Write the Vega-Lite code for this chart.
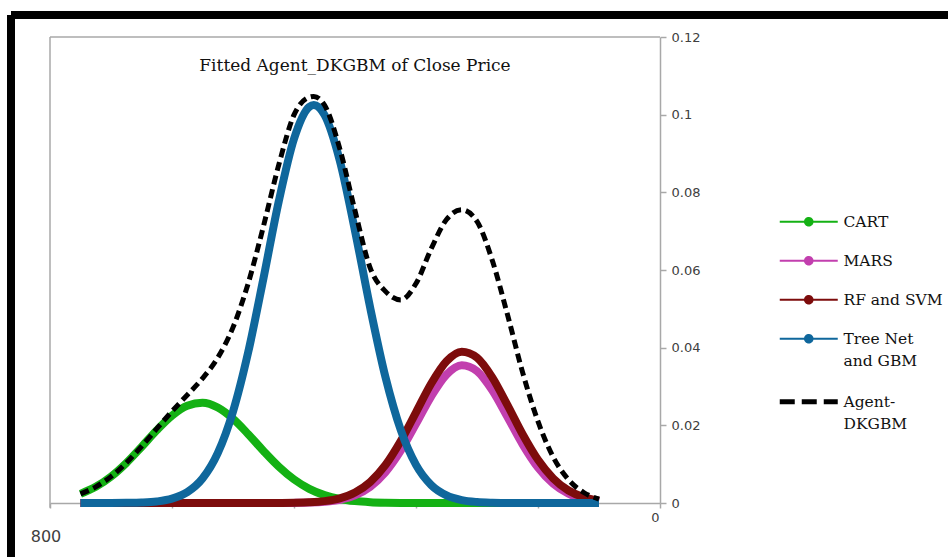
{
  "$schema": "https://vega.github.io/schema/vega-lite/v6.json",
  "width": 937,
  "height": 542,
  "autosize": "none",
  "padding": {"left": 11, "top": 15, "right": 0, "bottom": 0},
  "background": "white",
  "config": {
    "view": {"stroke": "black", "strokeWidth": 8, "strokeDash": [937, 1479, 542, 0]}
  },
  "datasets": {
    "curves": [
      {"series": "CART", "x": 5, "y": 0.00235},
      {"series": "CART", "x": 7.5, "y": 0.00416},
      {"series": "CART", "x": 10, "y": 0.0068},
      {"series": "CART", "x": 12.5, "y": 0.01029},
      {"series": "CART", "x": 15, "y": 0.01443},
      {"series": "CART", "x": 17.5, "y": 0.01873},
      {"series": "CART", "x": 20, "y": 0.02251},
      {"series": "CART", "x": 22.5, "y": 0.02504},
      {"series": "CART", "x": 25, "y": 0.02579},
      {"series": "CART", "x": 27.5, "y": 0.02458},
      {"series": "CART", "x": 30, "y": 0.02169},
      {"series": "CART", "x": 32.5, "y": 0.01772},
      {"series": "CART", "x": 35, "y": 0.0134},
      {"series": "CART", "x": 37.5, "y": 0.00938},
      {"series": "CART", "x": 40, "y": 0.00608},
      {"series": "CART", "x": 42.5, "y": 0.00365},
      {"series": "CART", "x": 45, "y": 0.00203},
      {"series": "CART", "x": 47.5, "y": 0.00104},
      {"series": "CART", "x": 50, "y": 0.0005},
      {"series": "CART", "x": 52.5, "y": 0.00022},
      {"series": "CART", "x": 55, "y": 0.00009},
      {"series": "CART", "x": 57.5, "y": 0.00003},
      {"series": "CART", "x": 60, "y": 0},
      {"series": "CART", "x": 90, "y": 0},
      {"series": "MARS", "x": 5, "y": 0},
      {"series": "MARS", "x": 35, "y": 0},
      {"series": "MARS", "x": 37.5, "y": 0.00001},
      {"series": "MARS", "x": 40, "y": 0.00003},
      {"series": "MARS", "x": 42.5, "y": 0.0001},
      {"series": "MARS", "x": 45, "y": 0.00031},
      {"series": "MARS", "x": 47.5, "y": 0.00082},
      {"series": "MARS", "x": 50, "y": 0.00197},
      {"series": "MARS", "x": 52.5, "y": 0.00419},
      {"series": "MARS", "x": 55, "y": 0.00795},
      {"series": "MARS", "x": 57.5, "y": 0.01348},
      {"series": "MARS", "x": 60, "y": 0.02037},
      {"series": "MARS", "x": 62.5, "y": 0.02747},
      {"series": "MARS", "x": 65, "y": 0.03305},
      {"series": "MARS", "x": 67.5, "y": 0.03547},
      {"series": "MARS", "x": 70, "y": 0.03397},
      {"series": "MARS", "x": 72.5, "y": 0.02901},
      {"series": "MARS", "x": 75, "y": 0.02212},
      {"series": "MARS", "x": 77.5, "y": 0.01504},
      {"series": "MARS", "x": 80, "y": 0.00912},
      {"series": "MARS", "x": 82.5, "y": 0.00494},
      {"series": "MARS", "x": 85, "y": 0.00238},
      {"series": "MARS", "x": 87.5, "y": 0.00103},
      {"series": "MARS", "x": 90, "y": 0.00039},
      {"series": "RF and SVM", "x": 5, "y": 0},
      {"series": "RF and SVM", "x": 35, "y": 0},
      {"series": "RF and SVM", "x": 37.5, "y": 0.00002},
      {"series": "RF and SVM", "x": 40, "y": 0.00006},
      {"series": "RF and SVM", "x": 42.5, "y": 0.00018},
      {"series": "RF and SVM", "x": 45, "y": 0.00049},
      {"series": "RF and SVM", "x": 47.5, "y": 0.00121},
      {"series": "RF and SVM", "x": 50, "y": 0.0027},
      {"series": "RF and SVM", "x": 52.5, "y": 0.00542},
      {"series": "RF and SVM", "x": 55, "y": 0.00979},
      {"series": "RF and SVM", "x": 57.5, "y": 0.01594},
      {"series": "RF and SVM", "x": 60, "y": 0.02335},
      {"series": "RF and SVM", "x": 62.5, "y": 0.03077},
      {"series": "RF and SVM", "x": 65, "y": 0.0365},
      {"series": "RF and SVM", "x": 67.5, "y": 0.03897},
      {"series": "RF and SVM", "x": 70, "y": 0.03744},
      {"series": "RF and SVM", "x": 72.5, "y": 0.03237},
      {"series": "RF and SVM", "x": 75, "y": 0.02519},
      {"series": "RF and SVM", "x": 77.5, "y": 0.01764},
      {"series": "RF and SVM", "x": 80, "y": 0.01112},
      {"series": "RF and SVM", "x": 82.5, "y": 0.00631},
      {"series": "RF and SVM", "x": 85, "y": 0.00322},
      {"series": "RF and SVM", "x": 87.5, "y": 0.00148},
      {"series": "RF and SVM", "x": 90, "y": 0.00061},
      {"series": "Tree Net and GBM", "x": 5, "y": 0},
      {"series": "Tree Net and GBM", "x": 10, "y": 0},
      {"series": "Tree Net and GBM", "x": 12.5, "y": 0.00004},
      {"series": "Tree Net and GBM", "x": 15, "y": 0.00013},
      {"series": "Tree Net and GBM", "x": 17.5, "y": 0.0004},
      {"series": "Tree Net and GBM", "x": 20, "y": 0.00111},
      {"series": "Tree Net and GBM", "x": 22.5, "y": 0.00278},
      {"series": "Tree Net and GBM", "x": 25, "y": 0.00629},
      {"series": "Tree Net and GBM", "x": 27.5, "y": 0.01283},
      {"series": "Tree Net and GBM", "x": 30, "y": 0.02354},
      {"series": "Tree Net and GBM", "x": 32.5, "y": 0.0389},
      {"series": "Tree Net and GBM", "x": 35, "y": 0.05791},
      {"series": "Tree Net and GBM", "x": 37.5, "y": 0.07765},
      {"series": "Tree Net and GBM", "x": 40, "y": 0.09377},
      {"series": "Tree Net and GBM", "x": 42.5, "y": 0.10201},
      {"series": "Tree Net and GBM", "x": 43.25, "y": 0.1025},
      {"series": "Tree Net and GBM", "x": 45, "y": 0.09994},
      {"series": "Tree Net and GBM", "x": 47.5, "y": 0.08819},
      {"series": "Tree Net and GBM", "x": 50, "y": 0.07009},
      {"series": "Tree Net and GBM", "x": 52.5, "y": 0.0502},
      {"series": "Tree Net and GBM", "x": 55, "y": 0.03236},
      {"series": "Tree Net and GBM", "x": 57.5, "y": 0.01879},
      {"series": "Tree Net and GBM", "x": 60, "y": 0.00982},
      {"series": "Tree Net and GBM", "x": 62.5, "y": 0.00462},
      {"series": "Tree Net and GBM", "x": 65, "y": 0.00196},
      {"series": "Tree Net and GBM", "x": 67.5, "y": 0.00075},
      {"series": "Tree Net and GBM", "x": 70, "y": 0.00026},
      {"series": "Tree Net and GBM", "x": 72.5, "y": 0.00008},
      {"series": "Tree Net and GBM", "x": 75, "y": 0.00002},
      {"series": "Tree Net and GBM", "x": 77.5, "y": 0},
      {"series": "Tree Net and GBM", "x": 90, "y": 0},
      {"series": "Agent-DKGBM", "x": 5, "y": 0.00235},
      {"series": "Agent-DKGBM", "x": 7.5, "y": 0.00416},
      {"series": "Agent-DKGBM", "x": 10, "y": 0.0068},
      {"series": "Agent-DKGBM", "x": 12.5, "y": 0.01033},
      {"series": "Agent-DKGBM", "x": 15, "y": 0.01456},
      {"series": "Agent-DKGBM", "x": 17.5, "y": 0.01913},
      {"series": "Agent-DKGBM", "x": 20, "y": 0.02362},
      {"series": "Agent-DKGBM", "x": 22.5, "y": 0.02782},
      {"series": "Agent-DKGBM", "x": 25, "y": 0.03208},
      {"series": "Agent-DKGBM", "x": 27.5, "y": 0.03741},
      {"series": "Agent-DKGBM", "x": 30, "y": 0.04523},
      {"series": "Agent-DKGBM", "x": 32.5, "y": 0.05662},
      {"series": "Agent-DKGBM", "x": 35, "y": 0.07131},
      {"series": "Agent-DKGBM", "x": 37.5, "y": 0.08706},
      {"series": "Agent-DKGBM", "x": 40, "y": 0.09994},
      {"series": "Agent-DKGBM", "x": 42.5, "y": 0.1045},
      {"series": "Agent-DKGBM", "x": 43.25, "y": 0.1047},
      {"series": "Agent-DKGBM", "x": 45, "y": 0.1025},
      {"series": "Agent-DKGBM", "x": 47.5, "y": 0.09126},
      {"series": "Agent-DKGBM", "x": 50, "y": 0.07526},
      {"series": "Agent-DKGBM", "x": 52.5, "y": 0.0605},
      {"series": "Agent-DKGBM", "x": 55, "y": 0.0545},
      {"series": "Agent-DKGBM", "x": 57.5, "y": 0.0523},
      {"series": "Agent-DKGBM", "x": 60, "y": 0.0565},
      {"series": "Agent-DKGBM", "x": 62.5, "y": 0.0655},
      {"series": "Agent-DKGBM", "x": 65, "y": 0.073},
      {"series": "Agent-DKGBM", "x": 67.5, "y": 0.0755},
      {"series": "Agent-DKGBM", "x": 70, "y": 0.0725},
      {"series": "Agent-DKGBM", "x": 72.5, "y": 0.0625},
      {"series": "Agent-DKGBM", "x": 75, "y": 0.0485},
      {"series": "Agent-DKGBM", "x": 77.5, "y": 0.0335},
      {"series": "Agent-DKGBM", "x": 80, "y": 0.021},
      {"series": "Agent-DKGBM", "x": 82.5, "y": 0.0118},
      {"series": "Agent-DKGBM", "x": 85, "y": 0.006},
      {"series": "Agent-DKGBM", "x": 87.5, "y": 0.0027},
      {"series": "Agent-DKGBM", "x": 90, "y": 0.001}
    ]
  },
  "layer": [
    {
      "data": {"values": [{}]},
      "mark": {"type": "rule", "color": "#a8a8a8", "strokeWidth": 1.5},
      "encoding": {"x": {"datum": 0}, "x2": {"datum": 100}, "y": {"datum": 0.12}}
    },
    {
      "data": {"values": [{}]},
      "mark": {"type": "rule", "color": "#a8a8a8", "strokeWidth": 1.5},
      "encoding": {"x": {"datum": 0}, "y": {"datum": -0.0012}, "y2": {"datum": 0.12}}
    },
    {
      "data": {"name": "curves"},
      "encoding": {
        "x": {
          "field": "x",
          "type": "quantitative",
          "scale": {"domain": [0, 100], "range": [39, 649], "nice": false, "zero": false},
          "axis": {
            "orient": "bottom",
            "offset": -54,
            "title": null,
            "grid": false,
            "values": [0, 20, 40, 60, 80, 100],
            "labelExpr": "datum.value == 100 ? '0' : ''",
            "labelOffset": -5,
            "labelPadding": 3,
            "labelFlush": false,
            "labelOverlap": false,
            "labelFont": "DejaVu Sans",
            "labelFontSize": 13,
            "labelColor": "#404040",
            "domainColor": "#a8a8a8",
            "domainWidth": 1.5,
            "tickColor": "#a8a8a8",
            "tickWidth": 1.5,
            "tickSize": 5
          }
        },
        "y": {
          "field": "y",
          "type": "quantitative",
          "scale": {"domain": [0, 0.12], "range": [488, 22], "nice": false},
          "axis": {
            "orient": "right",
            "offset": -288,
            "title": null,
            "grid": false,
            "values": [0, 0.02, 0.04, 0.06, 0.08, 0.1, 0.12],
            "format": "~g",
            "labelPadding": 5,
            "labelFlush": false,
            "labelOverlap": false,
            "labelFont": "DejaVu Sans",
            "labelFontSize": 13,
            "labelColor": "#404040",
            "domainColor": "#a8a8a8",
            "domainWidth": 1.5,
            "tickColor": "#a8a8a8",
            "tickWidth": 1.5,
            "tickSize": 6
          }
        },
        "color": {
          "field": "series",
          "type": "nominal",
          "scale": {
            "domain": ["CART", "MARS", "RF and SVM", "Tree Net and GBM", "Agent-DKGBM"],
            "range": ["#14b114", "#c23fae", "#7d0c0c", "#0f679c", "#000000"]
          },
          "legend": {
            "title": null,
            "orient": "none",
            "legendX": 790,
            "legendY": 199,
            "symbolType": "stroke",
            "symbolSize": 3364,
            "symbolStrokeWidth": 2,
            "labelFont": "DejaVu Serif",
            "labelFontSize": 15.5,
            "labelColor": "#111111",
            "labelOffset": 27,
            "labelLimit": 300,
            "rowPadding": 21,
            "labelExpr": "datum.label == 'Tree Net and GBM' ? ['Tree Net', 'and GBM'] : datum.label == 'Agent-DKGBM' ? ['Agent-', 'DKGBM'] : datum.label",
            "encode": {
              "symbols": {
                "update": {
                  "shape": {"signal": "datum.value === 'Agent-DKGBM' ? 'stroke' : 'M-1,0L1,0M-0.13,0A0.13,0.13,0,1,1,0.13,0A0.13,0.13,0,1,1,-0.13,0'"},
                  "fill": {"signal": "datum.value === 'Agent-DKGBM' ? 'transparent' : scale('color', datum.value)"},
                  "strokeWidth": {"signal": "datum.value === 'Agent-DKGBM' ? 5 : 2"},
                  "strokeDash": {"signal": "datum.value === 'Agent-DKGBM' ? [15, 7] : [1, 0]"}
                }
              },
              "labels": {"update": {"lineHeight": {"value": 22}}}
            }
          }
        }
      },
      "layer": [
        {"transform": [{"filter": "datum.series === 'CART'"}], "mark": {"type": "line", "strokeWidth": 8, "interpolate": "monotone"}},
        {"transform": [{"filter": "datum.series === 'MARS'"}], "mark": {"type": "line", "strokeWidth": 8, "interpolate": "monotone"}},
        {"transform": [{"filter": "datum.series === 'RF and SVM'"}], "mark": {"type": "line", "strokeWidth": 8, "interpolate": "monotone"}},
        {"transform": [{"filter": "datum.series === 'Tree Net and GBM'"}], "mark": {"type": "line", "strokeWidth": 8, "interpolate": "monotone"}},
        {"transform": [{"filter": "datum.series === 'Agent-DKGBM'"}], "mark": {"type": "line", "strokeWidth": 5, "strokeDash": [9, 5], "interpolate": "monotone"}}
      ]
    },
    {
      "data": {"values": [{}]},
      "mark": {"type": "text", "text": "Fitted Agent_DKGBM of Close Price", "font": "DejaVu Serif", "fontSize": 17, "color": "#111111", "align": "center", "baseline": "middle"},
      "encoding": {"x": {"datum": 50}, "y": {"datum": 0.1125}}
    },
    {
      "data": {"values": [{}]},
      "mark": {"type": "text", "text": "800", "font": "DejaVu Sans", "fontSize": 16, "color": "#404040", "align": "center", "baseline": "middle", "dx": -4},
      "encoding": {"x": {"datum": 0}, "y": {"datum": -0.0088}}
    }
  ]
}
